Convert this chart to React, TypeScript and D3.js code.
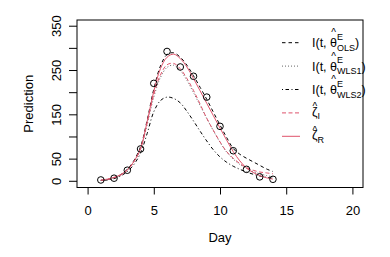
import { useEffect, useRef } from "react";
import * as d3 from "d3";

// observed counts
const days = [1, 2, 3, 4, 5, 6, 7, 8, 9, 10, 11, 12, 13, 14];
const observed = [3, 7, 25, 73, 221, 293, 258, 237, 190, 124, 69, 27, 10, 4.5];

const fitT = [1, 1.5, 2, 2.5, 3, 3.5, 4, 4.5, 5, 5.5, 6, 6.5, 7, 7.5, 8, 8.5, 9, 9.5, 10, 10.5, 11, 11.5, 12, 12.5, 13, 13.5, 14];
const fitOLS = [2, 4, 8, 15, 27, 47, 78, 138, 208, 260, 286, 290, 280, 262, 238, 212, 185, 156, 127, 99, 74, 61, 52, 44, 36, 28, 22];
const fitWLS1 = [2, 4, 8, 14, 25, 44, 72, 128, 190, 234, 257, 262, 250, 228, 200, 171, 142, 114, 88, 66, 50, 38, 29, 22, 17, 13, 10];
const fitWLS2 = [2, 3, 6, 12, 22, 38, 64, 108, 157, 182, 190, 187, 177, 158, 136, 113, 91, 71, 55, 43, 34, 27, 21, 16, 12, 9, 7];
const fitZetaI = [2, 4, 8, 14, 25, 44, 74, 132, 196, 240, 263, 266, 254, 232, 205, 174, 142, 115, 89, 67, 52, 40, 31, 25, 21, 19, 17];
const fitZetaR = [3, 5, 9, 15, 26, 45, 74, 135, 203, 254, 280, 287, 277, 258, 232, 204, 176, 148, 120, 93, 67, 46, 30, 20, 13, 8, 5];

const xTicks = [0, 5, 10, 15, 20];
const yTicks = [0, 50, 100, 150, 200, 250, 300, 350];
const yLabels = [0, 50, 150, 250, 350];

const PINK = "#DF536B";
const FONT = "'Liberation Sans', Arial, Helvetica, sans-serif";

export default function App() {
  const svgRef = useRef<SVGSVGElement>(null);

  useEffect(() => {
    if (!svgRef.current) return;
    const svg = d3.select(svgRef.current);
    svg.selectAll("*").remove();

    const left = 77, right = 363, top = 20, bottom = 187.5;

    const x = d3.scaleLinear().domain([-0.8, 20.8]).range([left, right]);
    const y = d3.scaleLinear().domain([-14, 364]).range([bottom, top]);

    // axes
    const xAxis = svg
      .append("g")
      .attr("transform", `translate(0,${bottom})`)
      .call(d3.axisBottom(x).tickValues(xTicks).tickSize(7).tickSizeOuter(0).tickPadding(11));
    xAxis.select(".domain").remove();
    xAxis.selectAll("line").attr("stroke", "#000");
    xAxis.selectAll("text").attr("font-size", 13).attr("font-family", FONT).attr("fill", "#000");

    const yAxis = svg.append("g");
    yAxis
      .selectAll("line")
      .data(yTicks)
      .enter()
      .append("line")
      .attr("x1", left - 8)
      .attr("x2", left)
      .attr("y1", d => y(d))
      .attr("y2", d => y(d))
      .attr("stroke", "#000");
    yAxis
      .selectAll("text")
      .data(yLabels)
      .enter()
      .append("text")
      .attr("transform", d => `translate(60.5,${y(d)}) rotate(-90)`)
      .attr("text-anchor", "middle")
      .attr("font-size", 13)
      .attr("font-family", FONT)
      .text(d => String(d));

    // axis titles
    svg
      .append("text")
      .attr("x", (left + right) / 2)
      .attr("y", 242)
      .attr("text-anchor", "middle")
      .attr("font-size", 13)
      .attr("font-family", FONT)
      .text("Day");
    svg
      .append("text")
      .attr("transform", `translate(32.5,${(top + bottom) / 2}) rotate(-90)`)
      .attr("text-anchor", "middle")
      .attr("font-size", 13)
      .attr("font-family", FONT)
      .text("Prediction");

    // fitted lines
    const series = [
      { values: fitOLS, color: "#000", dash: "3.5,3" },
      { values: fitWLS1, color: "#666", dash: "1,2" },
      { values: fitWLS2, color: "#000", dash: "1,2.5,3.5,2.5" },
      { values: fitZetaI, color: PINK, dash: "4,2.5" },
      { values: fitZetaR, color: PINK, dash: "none" },
    ];

    const line = d3
      .line<number>()
      .x((_, i) => x(fitT[i]))
      .y(d => y(d))
      .curve(d3.curveCatmullRom.alpha(0.5));

    series.forEach(s => {
      svg
        .append("path")
        .datum(s.values)
        .attr("fill", "none")
        .attr("stroke", s.color)
        .attr("stroke-width", 1)
        .attr("stroke-dasharray", s.dash)
        .attr("d", line);
    });

    // observations
    svg
      .selectAll(".obs")
      .data(observed)
      .enter()
      .append("circle")
      .attr("class", "obs")
      .attr("cx", (_, i) => x(days[i]))
      .attr("cy", d => y(d))
      .attr("r", 3.3)
      .attr("fill", "none")
      .attr("stroke", "#000")
      .attr("stroke-width", 1);

    // frame
    svg
      .append("rect")
      .attr("x", left)
      .attr("y", top)
      .attr("width", right - left)
      .attr("height", bottom - top)
      .attr("fill", "none")
      .attr("stroke", "#000");

    // legend
    const legend = svg.append("g").attr("font-family", FONT);
    const entries = [
      { kind: "theta", sub: "OLS" },
      { kind: "theta", sub: "WLS1" },
      { kind: "theta", sub: "WLS2" },
      { kind: "zeta", sub: "I" },
      { kind: "zeta", sub: "R" },
    ];

    entries.forEach((e, i) => {
      const cy = 42.7 + i * 23.4;
      const s = series[i];
      legend
        .append("line")
        .attr("x1", 282)
        .attr("x2", 300)
        .attr("y1", cy)
        .attr("y2", cy)
        .attr("stroke", s.color)
        .attr("stroke-dasharray", s.dash);

      const tx = 312;
      if (e.kind === "theta") {
        const t = legend.append("text").attr("x", tx).attr("y", cy + 4.5).attr("font-size", 12.5);
        t.append("tspan").text("I(t, ");
        t.append("tspan").text("θ");
        t.append("tspan").attr("font-size", 9).attr("dy", -7.5).text("E");
        t.append("tspan").attr("font-size", 9).attr("dx", -6).attr("dy", 11).text(e.sub);
        t.append("tspan").attr("dy", -3.5).text(")");
        const node = t.node() as SVGTextElement;
        let pre = 15.5;
        let thW = 7;
        try {
          pre = node.getSubStringLength(0, 5);
          thW = node.getSubStringLength(5, 1);
        } catch (err) {}
        // circumflex over theta, kept in the same text element
        t.append("tspan")
          .attr("x", tx + pre + thW / 2)
          .attr("y", cy - 6.4)
          .attr("text-anchor", "middle")
          .attr("font-size", 10)
          .text("^");
      } else {
        const t = legend.append("text").attr("x", tx).attr("y", cy + 3).attr("font-size", 12.5);
        t.append("tspan").text("ζ");
        t.append("tspan").attr("font-size", 9).attr("dy", 3.5).text(e.sub);
        const node = t.node() as SVGTextElement;
        let zW = 6;
        try {
          zW = node.getSubStringLength(0, 1);
        } catch (err) {}
        t.append("tspan")
          .attr("x", tx + zW / 2)
          .attr("y", cy - 2.7)
          .attr("text-anchor", "middle")
          .attr("font-size", 10)
          .text("^");
      }
    });
  }, []);

  return (
    <svg
      ref={svgRef}
      width={390}
      height={257}
      viewBox="0 0 390 257"
      style={{ position: "fixed", left: 0, top: 0, background: "#fff" }}
    />
  );
}
